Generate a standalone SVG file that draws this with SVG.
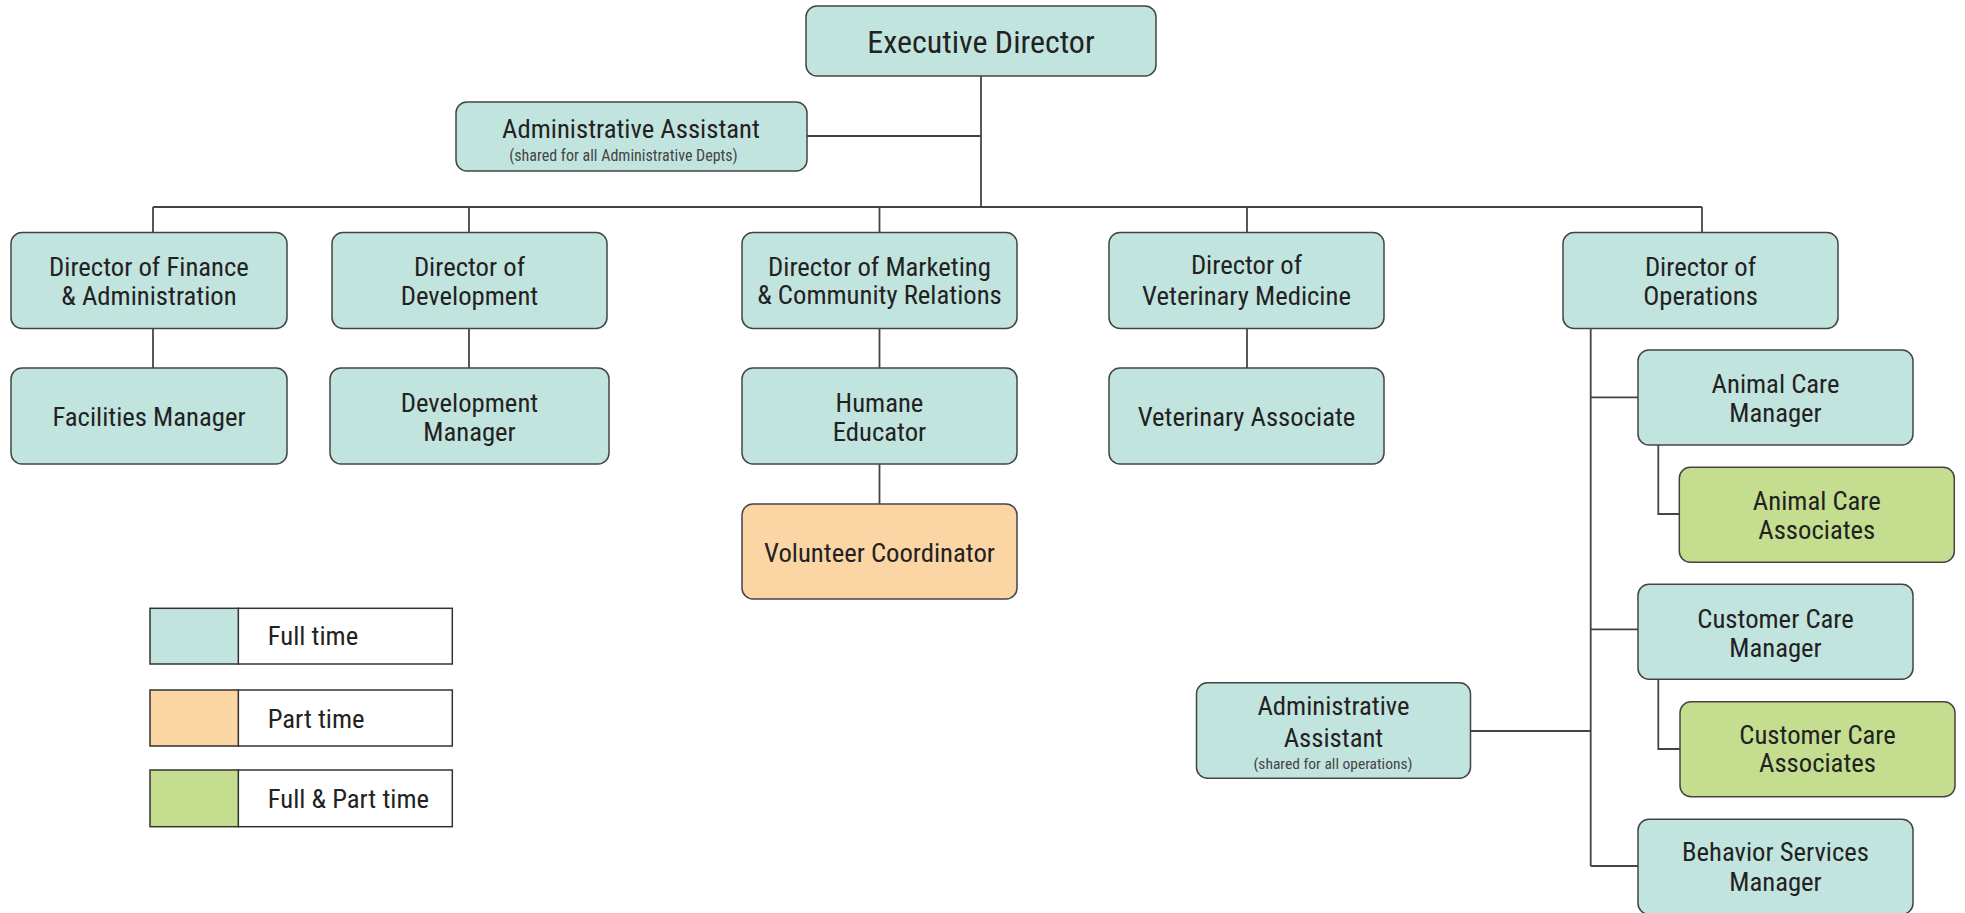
<svg xmlns="http://www.w3.org/2000/svg" width="1965" height="913" viewBox="0 0 1965 913">
<style>
  .node rect { stroke: #444; stroke-width: 1.5; }
  .ft { fill: #c2e4df; }
  .pt { fill: #fbd5a4; }
  .fp { fill: #c4dd8e; }
  text { font-family: "Roboto Condensed", Roboto, "Liberation Sans Narrow", "Liberation Sans", sans-serif; font-stretch: condensed; fill: #222; text-anchor: middle; font-size: 26.7px; }
  .big { font-size: 32px; }
  .small { font-size: 16px; fill: #444; }
  .small2 { font-size: 15.5px; fill: #444; }
  .conn line, .conn path { stroke: #444; stroke-width: 1.8; fill: none; }
  .leg rect { stroke: #333; stroke-width: 1.5; }
  .leg text { text-anchor: start; }
</style>
<rect width="1965" height="913" fill="#ffffff"/>

<g class="conn" id="connectors">
  <line x1="981" y1="76" x2="981" y2="207"/>
  <line x1="807" y1="136" x2="981" y2="136"/>
  <line x1="153" y1="207" x2="1702" y2="207"/>
  <line x1="153" y1="207" x2="153" y2="232.5"/>
  <line x1="469" y1="207" x2="469" y2="232.5"/>
  <line x1="879.5" y1="207" x2="879.5" y2="232.5"/>
  <line x1="1247" y1="207" x2="1247" y2="232.5"/>
  <line x1="1702" y1="207" x2="1702" y2="232.5"/>
  <line x1="153" y1="328.5" x2="153" y2="368"/>
  <line x1="469" y1="328.5" x2="469" y2="368"/>
  <line x1="879.5" y1="328.5" x2="879.5" y2="368"/>
  <line x1="879.5" y1="464" x2="879.5" y2="504"/>
  <line x1="1247" y1="328.5" x2="1247" y2="368"/>
  <line x1="1590.7" y1="328.5" x2="1590.7" y2="866"/>
  <line x1="1590.7" y1="397.3" x2="1638" y2="397.3"/>
  <line x1="1590.7" y1="629.3" x2="1638" y2="629.3"/>
  <line x1="1590.7" y1="866" x2="1638" y2="866"/>
  <line x1="1470.3" y1="731" x2="1590.7" y2="731"/>
  <path d="M1658.3 445 V514 H1679.3"/>
  <path d="M1658.3 679.3 V749 H1680"/>
</g>

<g class="node" id="executive-director">
  <rect class="ft" x="806" y="6" width="350" height="70" rx="11"/>
  <text class="big" x="981" y="53">Executive Director</text>
</g>
<g class="node" id="admin-assistant-top">
  <rect class="ft" x="456" y="102" width="351" height="69" rx="11"/>
  <text x="631" y="138">Administrative Assistant</text>
  <text class="small" x="623.5" y="161">(shared for all Administrative Depts)</text>
</g>

<g class="node" id="director-finance">
  <rect class="ft" x="11" y="232.5" width="276" height="96" rx="11"/>
  <text x="149" y="276">Director of Finance</text>
  <text x="149" y="304.5">&amp; Administration</text>
</g>
<g class="node" id="director-development">
  <rect class="ft" x="332" y="232.5" width="275" height="96" rx="11"/>
  <text x="469.5" y="276">Director of</text>
  <text x="469.5" y="304.5">Development</text>
</g>
<g class="node" id="director-marketing">
  <rect class="ft" x="742" y="232.5" width="275" height="96" rx="11"/>
  <text x="879.5" y="275.5">Director of Marketing</text>
  <text x="879.5" y="304">&amp; Community Relations</text>
</g>
<g class="node" id="director-vet">
  <rect class="ft" x="1109" y="232.5" width="275" height="96" rx="11"/>
  <text x="1246.5" y="274">Director of</text>
  <text x="1246.5" y="305">Veterinary Medicine</text>
</g>
<g class="node" id="director-operations">
  <rect class="ft" x="1563" y="232.5" width="275" height="96" rx="11"/>
  <text x="1700.5" y="276">Director of</text>
  <text x="1700.5" y="304.5">Operations</text>
</g>

<g class="node" id="facilities-manager">
  <rect class="ft" x="11" y="368" width="276" height="96" rx="11"/>
  <text x="149" y="425.5">Facilities Manager</text>
</g>
<g class="node" id="development-manager">
  <rect class="ft" x="330" y="368" width="279" height="96" rx="11"/>
  <text x="469.5" y="411.5">Development</text>
  <text x="469.5" y="440.5">Manager</text>
</g>
<g class="node" id="humane-educator">
  <rect class="ft" x="742" y="368" width="275" height="96" rx="11"/>
  <text x="879.5" y="411.5">Humane</text>
  <text x="879.5" y="440.5">Educator</text>
</g>
<g class="node" id="volunteer-coordinator">
  <rect class="pt" x="742" y="504" width="275" height="95" rx="11"/>
  <text x="879.5" y="561.5">Volunteer Coordinator</text>
</g>
<g class="node" id="veterinary-associate">
  <rect class="ft" x="1109" y="368" width="275" height="96" rx="11"/>
  <text x="1246.5" y="425.5">Veterinary Associate</text>
</g>

<g class="node" id="animal-care-manager">
  <rect class="ft" x="1638" y="350" width="275" height="95" rx="11"/>
  <text x="1775.5" y="392.5">Animal Care</text>
  <text x="1775.5" y="421.5">Manager</text>
</g>
<g class="node" id="animal-care-associates">
  <rect class="fp" x="1679.3" y="467.3" width="275" height="95" rx="11"/>
  <text x="1816.8" y="510">Animal Care</text>
  <text x="1816.8" y="539">Associates</text>
</g>
<g class="node" id="customer-care-manager">
  <rect class="ft" x="1638" y="584.3" width="275" height="95" rx="11"/>
  <text x="1775.5" y="628">Customer Care</text>
  <text x="1775.5" y="656.5">Manager</text>
</g>
<g class="node" id="customer-care-associates">
  <rect class="fp" x="1680" y="701.7" width="275" height="95" rx="11"/>
  <text x="1817.5" y="743.5">Customer Care</text>
  <text x="1817.5" y="772">Associates</text>
</g>
<g class="node" id="behavior-services-manager">
  <rect class="ft" x="1638" y="819.3" width="275" height="95" rx="11"/>
  <text x="1775.5" y="860.5">Behavior Services</text>
  <text x="1775.5" y="891">Manager</text>
</g>
<g class="node" id="admin-assistant-ops">
  <rect class="ft" x="1196.5" y="682.7" width="274" height="95.6" rx="11"/>
  <text x="1333.5" y="715">Administrative</text>
  <text x="1333.5" y="746.5">Assistant</text>
  <text class="small2" x="1333" y="768.5">(shared for all operations)</text>
</g>

<g class="leg" id="legend">
  <g id="legend-full">
    <rect x="238.3" y="608.3" width="214" height="55.7" fill="#ffffff"/>
    <rect class="ft" x="150" y="608.3" width="88.3" height="55.7"/>
    <text x="267.7" y="645">Full time</text>
  </g>
  <g id="legend-part">
    <rect x="238.3" y="690" width="214" height="56" fill="#ffffff"/>
    <rect class="pt" x="150" y="690" width="88.3" height="56"/>
    <text x="267.7" y="727.5">Part time</text>
  </g>
  <g id="legend-fullpart">
    <rect x="238.3" y="770" width="214" height="56.7" fill="#ffffff"/>
    <rect class="fp" x="150" y="770" width="88.3" height="56.7"/>
    <text x="267.7" y="808">Full &amp; Part time</text>
  </g>
</g>
</svg>
